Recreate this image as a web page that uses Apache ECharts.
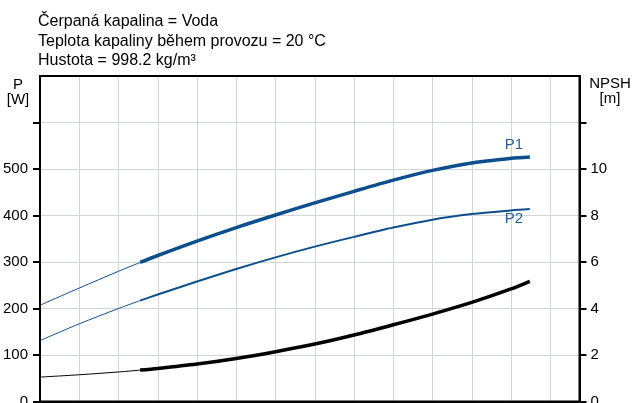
<!DOCTYPE html>
<html>
<head>
<meta charset="utf-8">
<script src="https://cdn.jsdelivr.net/npm/echarts@6/dist/echarts.min.js"></script>
<style>
html,body{margin:0;padding:0;background:#fff;}
#chart{width:633px;height:403px;}
</style>
</head>
<body>
<div id="chart"></div>
<script>
// Title lines
const titleLines = ['Čerpaná kapalina = Voda', 'Teplota kapaliny během provozu = 20 °C', 'Hustota = 998.2 kg/m³'];
// Flow positions (grid units along x axis)
const flow = [0, 1, 2, 2.55, 3, 4, 5, 6, 7, 8, 9, 10, 11, 12, 12.48];
// Start of the operating (thick) range
const opStart = 2.55;
// Power P1 [W]
const p1 = [207, 244, 280, 299, 314, 345, 374, 401, 427, 452, 476, 497, 513, 523, 526];
// Power P2 [W]
const p2 = [131, 167, 200, 217, 230, 258, 285, 310, 333, 354, 374, 391, 403, 411, 414];
// NPSH [m]
const npsh = [1.05, 1.15, 1.27, 1.35, 1.42, 1.61, 1.85, 2.14, 2.47, 2.86, 3.30, 3.76, 4.26, 4.84, 5.17];
// Curve label names and the flow where they sit
const curveNames = ['P1', 'P2'];
const labelFlow = 12;
// Axis ticks / labels
const pTicks = [0, 100, 200, 300, 400, 500, 600];
const pLabels = [0, 100, 200, 300, 400, 500];
const nTicks = [0, 2, 4, 6, 8, 10, 12];
const nLabels = [0, 2, 4, 6, 8, 10];
const xMax = 13.745;

const FONT = 'Liberation Sans, Arial, sans-serif';
const BLUE = '#0d4f8c';
const BLUE_TXT = '#1f5f9e';

function part(vals, thick) {
  const out = [];
  flow.forEach((q, i) => {
    if (thick ? q >= opStart : q <= opStart) out.push([q, vals[i]]);
  });
  return out;
}
function nameMark(vals, text, pos, dist) {
  const i = flow.indexOf(labelFlow);
  return {
    silent: true, animation: false,
    data: [{coord: [flow[i], vals[i]], symbol: 'circle', symbolSize: 0,
      label: {show: true, formatter: text, position: pos, distance: dist, offset: [3, 0],
        color: BLUE_TXT, fontSize: 15, fontFamily: FONT}}]
  };
}

const chart = echarts.init(document.getElementById('chart'), null, {renderer: 'canvas'});
const lineBase = {type: 'line', smooth: 0.3, showSymbol: false, symbol: 'none', silent: true, animation: false, z: 5};

chart.setOption({
  animation: false,
  textStyle: {fontFamily: FONT},
  graphic: [{
    type: 'text', left: 38, top: 12,
    style: {text: titleLines.join('\n'), font: '16px ' + FONT, lineHeight: 19.5, fill: '#000'}
  }],
  grid: {left: 40, right: 53.5, top: 76, bottom: 1.5, show: true, borderColor: '#000', borderWidth: 2, z: 10, outerBoundsMode: 'none', containLabel: false},
  xAxis: {
    type: 'value', min: 0, max: xMax, interval: 1,
    axisLine: {show: true, lineStyle: {color: '#000', width: 2}},
    axisTick: {show: false}, axisLabel: {show: false},
    splitLine: {show: true, lineStyle: {color: '#d2d5d8', width: 1}}
  },
  yAxis: [{
    type: 'value', min: 0, max: 700, interval: 100, position: 'left',
    name: 'P\n[W]', nameLocation: 'end', nameGap: 0,
    nameTextStyle: {color: '#000', fontSize: 15, fontFamily: FONT, lineHeight: 15, align: 'center', verticalAlign: 'top', padding: [1, 0, 0, -44]},
    axisLine: {show: true, lineStyle: {color: '#000', width: 2}},
    axisTick: {show: true, length: 7, customValues: pTicks, lineStyle: {color: '#000', width: 2}},
    axisLabel: {customValues: pLabels, color: '#000', fontSize: 15, fontFamily: FONT, margin: 12},
    splitLine: {show: true, lineStyle: {color: '#d2d5d8', width: 1}}
  }, {
    type: 'value', min: 0, max: 14, interval: 2, position: 'right',
    name: 'NPSH\n[m]', nameLocation: 'end', nameGap: 0,
    nameTextStyle: {color: '#000', fontSize: 15, fontFamily: FONT, lineHeight: 15, align: 'center', verticalAlign: 'top', padding: [0, 0, 0, 61]},
    axisLine: {show: true, lineStyle: {color: '#000', width: 2}},
    axisTick: {show: true, length: 7, customValues: nTicks, lineStyle: {color: '#000', width: 2}},
    axisLabel: {customValues: nLabels, color: '#000', fontSize: 15, fontFamily: FONT, margin: 11},
    splitLine: {show: false}
  }],
  series: [
    Object.assign({}, lineBase, {name: 'P1 thin', yAxisIndex: 0, data: part(p1, false), lineStyle: {color: BLUE, width: 1}}),
    Object.assign({}, lineBase, {name: 'P1', yAxisIndex: 0, data: part(p1, true), lineStyle: {color: BLUE, width: 3.5},
      markPoint: nameMark(p1, curveNames[0], 'top', 6)}),
    Object.assign({}, lineBase, {name: 'P2 thin', yAxisIndex: 0, data: part(p2, false), lineStyle: {color: BLUE, width: 1}}),
    Object.assign({}, lineBase, {name: 'P2', yAxisIndex: 0, data: part(p2, true), lineStyle: {color: BLUE, width: 2},
      markPoint: nameMark(p2, curveNames[1], 'bottom', 1)}),
    Object.assign({}, lineBase, {name: 'NPSH thin', yAxisIndex: 1, data: part(npsh, false), lineStyle: {color: '#000', width: 1}}),
    Object.assign({}, lineBase, {name: 'NPSH', yAxisIndex: 1, data: part(npsh, true), lineStyle: {color: '#000', width: 3.5}})
  ]
});
</script>
</body>
</html>
